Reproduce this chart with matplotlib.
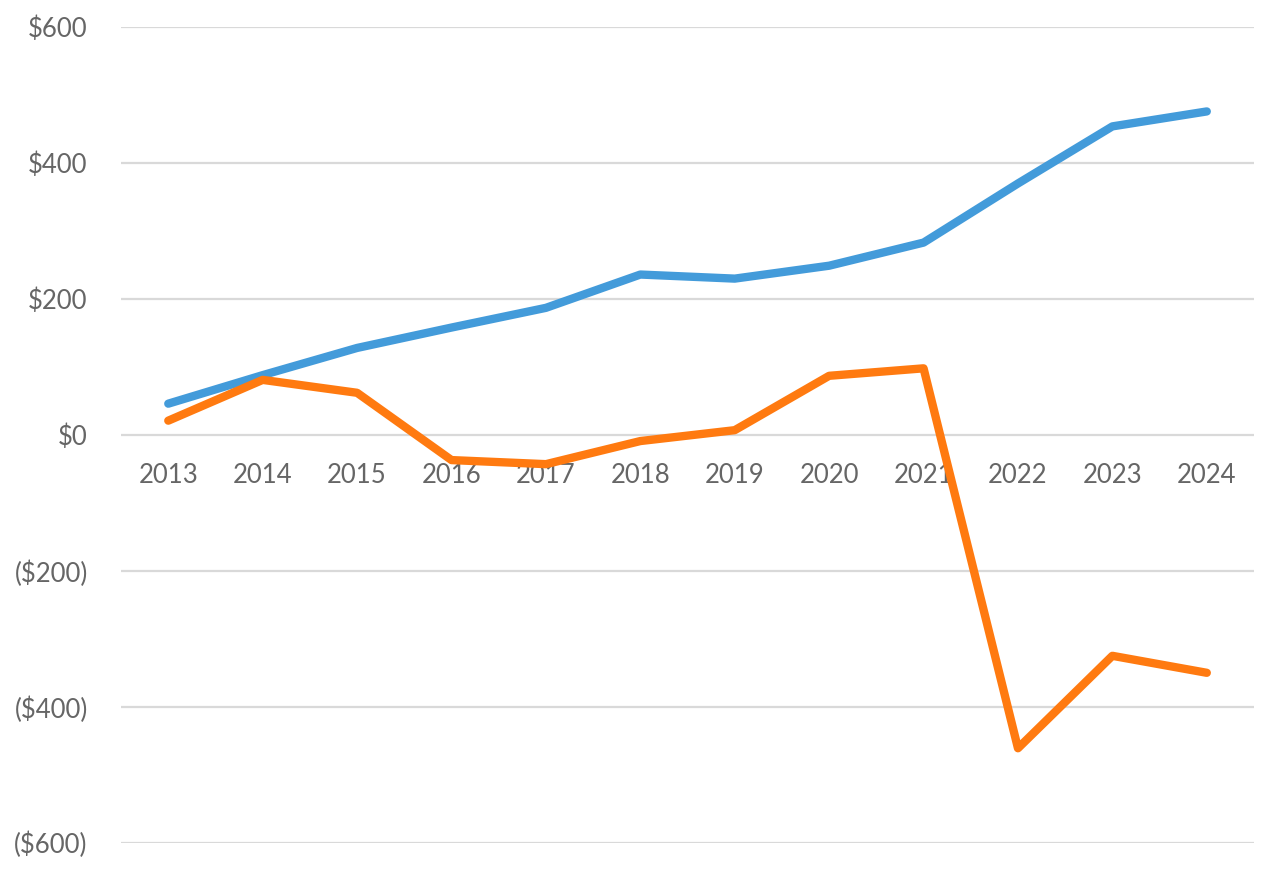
import matplotlib.pyplot as plt
from matplotlib.ticker import FuncFormatter

years = [2013, 2014, 2015, 2016, 2017, 2018, 2019, 2020, 2021, 2022, 2023, 2024]
blue_vals = [46, 88, 128, 158, 187, 236, 230, 249, 283, 370, 454, 476]
orange_vals = [21, 81, 62, -37, -43, -9, 7, 87, 98, -461, -325, -350]
y_ticks = [-600, -400, -200, 0, 200, 400, 600]

plt.rcParams['font.family'] = ['Lato', 'DejaVu Sans']

fig = plt.figure(figsize=(12.88, 8.76), dpi=100)
ax = fig.add_axes([0.094, 0.038, 0.8796, 0.931])

ax.plot(years, blue_vals, color='#439BDA', lw=6, solid_capstyle='round', zorder=3)
ax.plot(years, orange_vals, color='#FF7A10', lw=6, solid_capstyle='round', zorder=3)

ax.set_xlim(2012.5, 2024.5)
ax.set_ylim(-600, 600)
ax.set_yticks(y_ticks)
ax.set_xticks(years)
ax.set_xticklabels([str(y) for y in years])


def money(v, pos):
    v = int(round(v))
    if v < 0:
        return '(${})'.format(-v)
    return '${}'.format(v)


ax.yaxis.set_major_formatter(FuncFormatter(money))
ax.grid(axis='y', color='#D9D9D9', lw=1.6)
ax.grid(axis='x', visible=False)

for s in ['top', 'right', 'left']:
    ax.spines[s].set_visible(False)
ax.spines['bottom'].set_position(('data', 0))
ax.spines['bottom'].set_visible(False)

ax.tick_params(axis='both', length=0, labelsize=18.5, labelcolor='#666666')
ax.tick_params(axis='x', pad=20)
ax.tick_params(axis='y', pad=24)

plt.savefig('out.png', dpi=100)
